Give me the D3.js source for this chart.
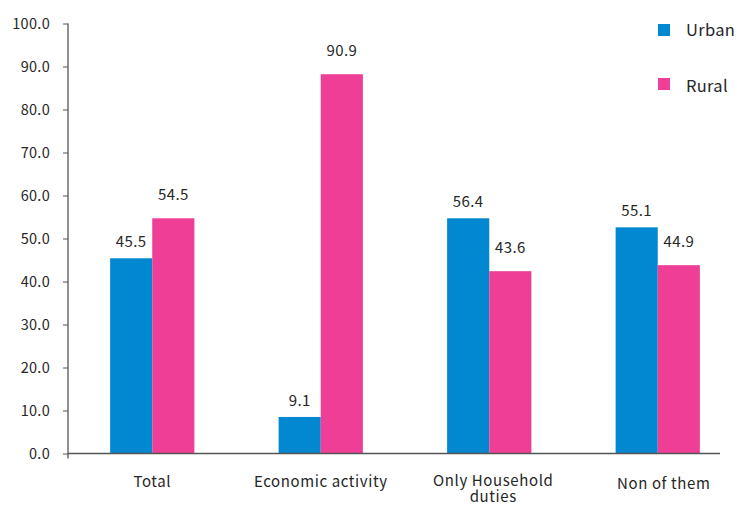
<!DOCTYPE html>
<html><head><meta charset="utf-8">
<script src="https://cdn.jsdelivr.net/npm/d3@7"></script>
<style>body{margin:0;background:#fff}svg{display:block;font-family:"Noto Sans CJK KR","Noto Sans",sans-serif}</style>
</head><body><svg id="c" width="737" height="506"></svg>
<script>
const categories = ["Total", "Economic activity", "Only Household\nduties", "Non of them"];
const series = ["Urban", "Rural"];
// bar heights as drawn in the picture
const urbanValues = [45.4, 8.5, 54.7, 52.6];
const ruralValues = [54.7, 88.2, 42.4, 43.8];
// value labels as printed
const urbanLabels = ["45.5", "9.1", "56.4", "55.1"];
const ruralLabels = ["54.5", "90.9", "43.6", "44.9"];
const yTicks = [0, 10, 20, 30, 40, 50, 60, 70, 80, 90, 100];
const colors = ["#0288d1", "#ee3e96"];

(function () {
const svg = d3.select("#c");
const mLeft = 68, mBottom = 453.5, mTop = 23.5;
const x = d3.scaleBand().domain(categories).range([mLeft, mLeft + 4 * 168.5]).paddingInner(0.5).paddingOuter(0.25);
const xs = d3.scaleBand().domain(series).range([0, x.bandwidth()]);
const y = d3.scaleLinear().domain([0, 100]).range([mBottom, mTop]);
const textColor = "#262626";

const data = categories.map((c, i) => ({c, vals: [urbanValues[i], ruralValues[i]], labs: [urbanLabels[i], ruralLabels[i]]}));
const g = svg.append("g");
const grp = g.selectAll("g.cat").data(data).join("g").attr("transform", d => `translate(${x(d.c)},0)`);
grp.selectAll("rect").data(d => d.vals.map((v, k) => ({v, k}))).join("rect")
  .attr("x", d => xs(series[d.k])).attr("width", xs.bandwidth())
  .attr("y", d => y(d.v)).attr("height", d => y(0) - y(d.v))
  .attr("fill", d => colors[d.k]);
const labOff = [11, 18];
grp.selectAll("text").data(d => d.vals.map((v, k) => ({v, k, l: d.labs[k]}))).join("text")
  .attr("x", d => xs(series[d.k]) + xs.bandwidth() / 2)
  .attr("y", d => y(d.v) - labOff[d.k])
  .attr("text-anchor", "middle").attr("font-size", 15).attr("letter-spacing", 0.4).attr("fill", textColor)
  .text(d => d.l);

const ya = svg.append("g").attr("transform", `translate(${mLeft},0)`)
  .call(d3.axisLeft(y).tickValues(yTicks).tickFormat(d3.format(".1f")).tickSize(5).tickPadding(13));
ya.select(".domain").remove();
ya.selectAll(".tick line").attr("stroke", "#555");
ya.selectAll(".tick text").attr("font-size", 14.5).attr("letter-spacing", 0.3).attr("fill", textColor).attr("font-family", "'Noto Sans CJK KR','Noto Sans',sans-serif");
svg.append("line").attr("x1", mLeft).attr("x2", mLeft).attr("y1", mTop).attr("y2", mBottom + 5).attr("stroke", "#555").attr("stroke-width", 1.3);

svg.append("line").attr("x1", mLeft).attr("x2", 720).attr("y1", mBottom).attr("y2", mBottom).attr("stroke", "#555").attr("stroke-width", 1.3);

svg.selectAll("text.cat").data(categories).join("text").attr("class", "cat")
  .attr("text-anchor", "middle").attr("font-size", 15).attr("letter-spacing", 0.6).attr("fill", textColor)
  .attr("transform", (d, i) => `translate(${x(d) + x.bandwidth() / 2 + (i === 3 ? 6 : i === 2 ? 4 : 0)},${i === 3 ? 489 : i === 2 ? 486 : 487})`)
  .each(function(d) {
    const lines = d.split("\n");
    d3.select(this).selectAll("tspan").data(lines).join("tspan")
      .attr("x", 0).attr("dy", (l, i) => i === 0 ? 0 : 16).text(l => l);
  });

const lg = svg.append("g").attr("transform", "translate(658,24)");
series.forEach((s, i) => {
  lg.append("rect").attr("x", 0).attr("y", i * 54).attr("width", 12).attr("height", 12).attr("fill", colors[i]);
  lg.append("text").attr("x", 28).attr("y", i * 54 + (i === 0 ? 11.7 : 14.3)).attr("font-size", 16.5).attr("letter-spacing", 0.3).attr("fill", textColor).text(s);
});
})();
</script></body></html>
